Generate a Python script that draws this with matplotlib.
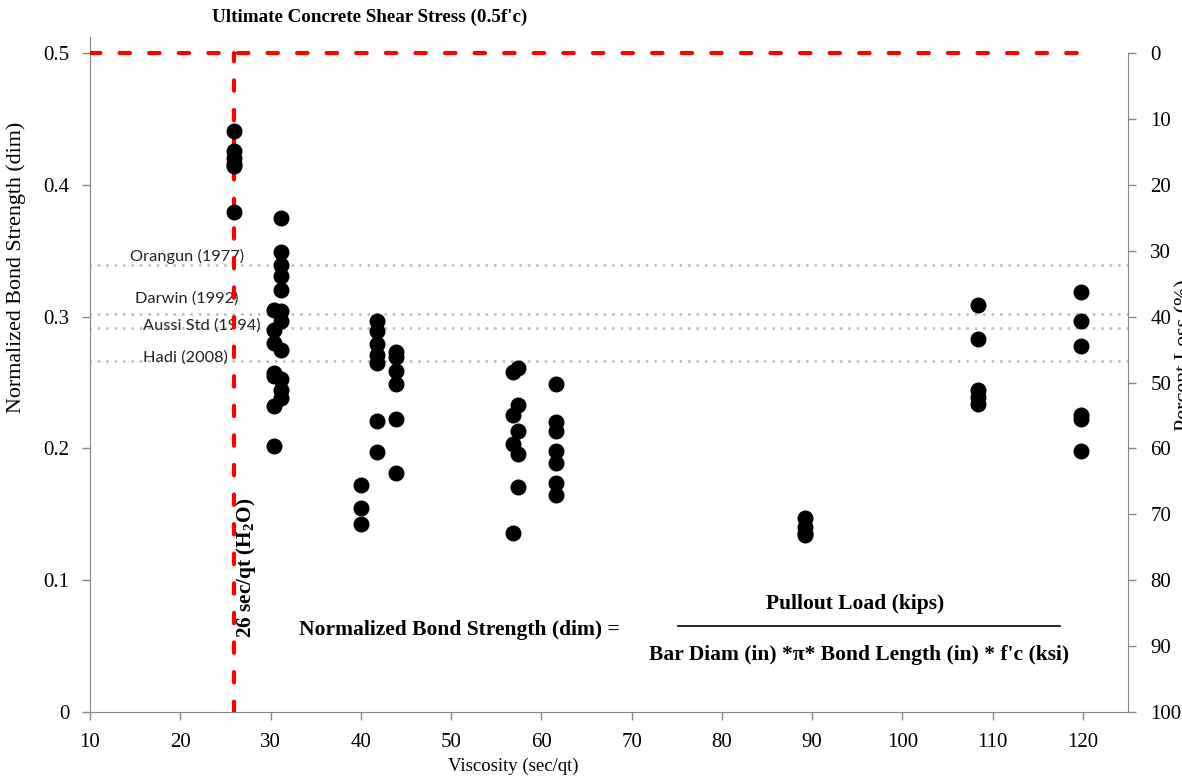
import matplotlib
matplotlib.use('Agg')
import matplotlib.pyplot as plt

# 粘度 (sec/qt) 各组位置
visc_26 = 26.0
visc_30a = 30.4
visc_30b = 31.2
visc_40a = 40.0
visc_40b = 41.8
visc_40c = 43.9
visc_57a = 56.9
visc_57b = 57.4
visc_61 = 61.6
visc_89 = 89.2
visc_108 = 108.4
visc_120 = 119.8

# 归一化粘结强度 (dim)
bond_26 = [0.441, 0.426, 0.420, 0.416, 0.414, 0.379]
bond_30a = [0.305, 0.290, 0.280, 0.257, 0.255, 0.232, 0.202]
bond_30b = [0.375, 0.349, 0.339, 0.331, 0.320, 0.304, 0.297, 0.275, 0.253, 0.244, 0.238]
bond_40a = [0.172, 0.155, 0.143]
bond_40b = [0.297, 0.289, 0.279, 0.271, 0.265, 0.221, 0.197]
bond_40c = [0.273, 0.269, 0.259, 0.249, 0.222, 0.181]
bond_57a = [0.258, 0.225, 0.203, 0.136]
bond_57b = [0.261, 0.233, 0.213, 0.196, 0.171]
bond_61 = [0.249, 0.220, 0.213, 0.198, 0.189, 0.174, 0.165]
bond_89 = [0.147, 0.140, 0.136, 0.134]
bond_108 = [0.309, 0.283, 0.244, 0.239, 0.234]
bond_120 = [0.319, 0.297, 0.278, 0.225, 0.222, 0.198]

groups = [
    (visc_26, bond_26), (visc_30a, bond_30a), (visc_30b, bond_30b),
    (visc_40a, bond_40a), (visc_40b, bond_40b), (visc_40c, bond_40c),
    (visc_57a, bond_57a), (visc_57b, bond_57b), (visc_61, bond_61),
    (visc_89, bond_89), (visc_108, bond_108), (visc_120, bond_120),
]

# 规范参考线
ref_names = ['Orangun (1977)', 'Darwin (1992)', 'Aussi Std (1994)', 'Hadi (2008)']
ref_values = [0.339, 0.302, 0.291, 0.266]
ref_label_x = [20.8, 20.7, 22.4, 20.6]
ref_label_y = [0.346, 0.3134, 0.2929, 0.2686]

shear_limit = 0.5
water_visc = 26
x_ticks = list(range(10, 121, 10))
y_ticks = [0, 0.1, 0.2, 0.3, 0.4, 0.5]
pct_ticks = list(range(0, 101, 10))

serif = 'Liberation Serif'
plt.rcParams['font.family'] = [serif, 'DejaVu Serif']
plt.rcParams['mathtext.fontset'] = 'custom'
plt.rcParams['mathtext.rm'] = serif
plt.rcParams['mathtext.bf'] = serif + ':bold'

W, H = 1182, 782
fig = plt.figure(figsize=(W / 100, H / 100), dpi=100)
ax = fig.add_axes([90 / W, 1 - 712 / H, (1128 - 90) / W, (712 - 37) / H])

ytop = 0.5 + (53 - 37) / 1318
ax.set_xlim(10, 125)
ax.set_ylim(0, ytop)

# 参考线（灰色点线）
for v in ref_values:
    ax.plot([10, 125], [v, v], color='#c0c0c0', lw=2.2,
            linestyle=(0, (0.01, 2.75)), dash_capstyle='round', zorder=1)
for name, lx, ly in zip(ref_names, ref_label_x, ref_label_y):
    ax.text(lx, ly, name, ha='center', va='center', fontsize=11.8,
            family=['Lato', 'DejaVu Sans'], color='#222222', zorder=2)

# 0.5f'c 与 水的粘度
ax.plot([10, 120], [shear_limit, shear_limit], color='#ff0000', lw=3,
        linestyle=(0, (2.5, 4.6)), dash_capstyle='round', zorder=3)
ax.plot([water_visc, water_visc], [0, shear_limit], color='#ff0000', lw=3,
        linestyle=(0, (2.5, 4.6)), dash_capstyle='round', zorder=3)

# 数据点
for vx, vals in groups:
    ax.plot([vx] * len(vals), vals, 'o', color='black', markersize=10.5,
            linestyle='none', zorder=4)

ax.set_xticks(x_ticks)
ax.set_yticks(y_ticks)
ax.set_yticklabels(['0', '0.1', '0.2', '0.3', '0.4', '0.5'])
ax.tick_params(labelsize=15, color='#888888', length=6, width=1, pad=9)
for s in ['left', 'bottom']:
    ax.spines[s].set_color('#888888')
ax.spines['top'].set_visible(False)
ax.spines['right'].set_visible(False)

ax.set_xlabel('Viscosity (sec/qt)', fontsize=13.5)
ax.xaxis.set_label_coords((513 - 90) / (1128 - 90), -0.068)
ax.set_ylabel('Normalized Bond Strength (dim)', fontsize=15.8)
ax.yaxis.set_label_coords(-0.062, (712 - 267) / (712 - 37))

# 右轴：强度损失百分比
ax2 = ax.twinx()
ax2.set_ylim(100, (0.5 - ytop) / 0.5 * 100)
ax2.set_yticks(pct_ticks)
ax2.tick_params(labelsize=15, color='#888888', length=6, width=1, pad=10)
ax2.spines['right'].set_color('#888888')
ax2.spines['right'].set_bounds(100, 0)
for s in ['top', 'left', 'bottom']:
    ax2.spines[s].set_visible(False)
fig.text(1175 / W, 1 - 355 / H, 'Percent Loss (%)', rotation=90,
         ha='left', va='center', fontsize=15.8)

# 标题与公式
fig.text(370 / W, 1 - 17 / H, "Ultimate Concrete Shear Stress (0.5f'c)",
         ha='center', va='center', fontsize=13.7, fontweight='bold')
ax.text(27.3, 0.109, r'26 sec/qt (H$_\mathbf{2}$O)', rotation=90,
        ha='center', va='center', fontsize=15.3, fontweight='bold')
fig.text(459 / W, 1 - 630 / H, 'Normalized Bond Strength (dim) =',
         ha='center', va='center', fontsize=15.5, fontweight='bold')
fig.text(855 / W, 1 - 604 / H, 'Pullout Load (kips)',
         ha='center', va='center', fontsize=15.5, fontweight='bold')
fig.add_artist(plt.Line2D([678 / W, 1060 / W], [1 - 626 / H, 1 - 626 / H],
                          color='black', lw=1.2))
fig.text(859 / W, 1 - 655 / H, "Bar Diam (in) *\u03c0* Bond Length (in) * f'c (ksi)",
         ha='center', va='center', fontsize=15.5, fontweight='bold')

fig.savefig('out.png', dpi=100)
